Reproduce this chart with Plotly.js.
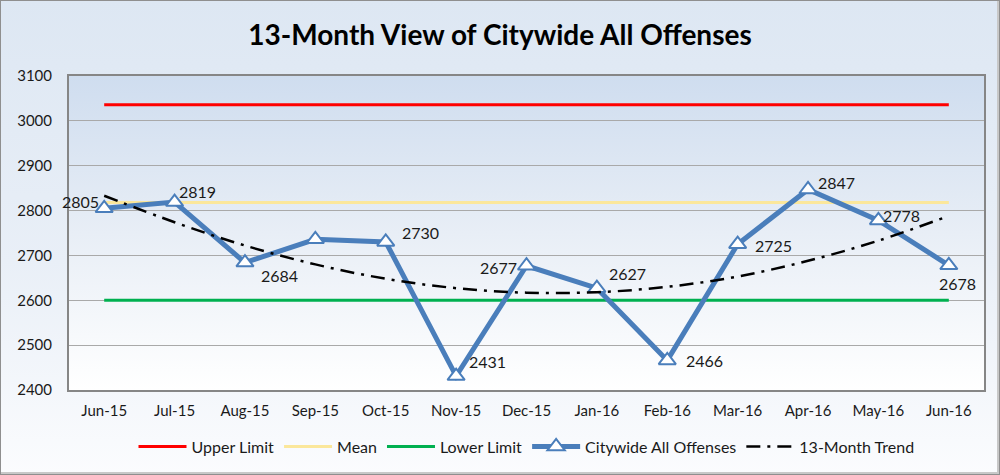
<!DOCTYPE html>
<html>
<head>
<meta charset="utf-8">
<script src="https://cdn.plot.ly/plotly-3.0.1.min.js"></script>
<style>
  html, body { margin: 0; padding: 0; }
  #chart {
    width: 1000px; height: 475px;
    background: linear-gradient(to bottom, #dde7f3 0%, #e9eff7 55%, #fbfcfe 100%);
    box-shadow: inset 0 0 0 1px #8f8f8f, inset -3px -3px 0 0 #c8c8c8;
  }
</style>
</head>
<body>
<div id="chart"></div>
<script>
const months = ["Jun-15","Jul-15","Aug-15","Sep-15","Oct-15","Nov-15","Dec-15","Jan-16","Feb-16","Mar-16","Apr-16","May-16","Jun-16"];
const offenses = [2805, 2819, 2684, 2736, 2730, 2431, 2677, 2627, 2466, 2725, 2847, 2778, 2678];
const upperLimit = [3036, 3036, 3036, 3036, 3036, 3036, 3036, 3036, 3036, 3036, 3036, 3036, 3036];
const meanLine = [2818, 2818, 2818, 2818, 2818, 2818, 2818, 2818, 2818, 2818, 2818, 2818, 2818];
const lowerLimit = [2600, 2600, 2600, 2600, 2600, 2600, 2600, 2600, 2600, 2600, 2600, 2600, 2600];
const trend = [2833, 2774, 2722, 2680, 2648, 2627, 2617, 2618, 2630, 2653, 2688, 2733, 2788];
const yTicks = [2400, 2500, 2600, 2700, 2800, 2900, 3000, 3100];
// which points carry a data label (Sep-15 has none)
const showLabel = [true, true, true, false, true, true, true, true, true, true, true, true, true];

// label placement (style only)
const labelPlace = [
  {xa: "right", dx: -3, dy: 7},
  {xa: "left", dx: 2, dy: 11},
  {xa: "left", dx: 14, dy: -13},
  null,
  {xa: "left", dx: 14, dy: 9},
  {xa: "left", dx: 11, dy: 15},
  {xa: "right", dx: -8, dy: -2},
  {xa: "left", dx: 10, dy: 15},
  {xa: "left", dx: 17, dy: 0},
  {xa: "left", dx: 15, dy: -1},
  {xa: "left", dx: 8, dy: 7},
  {xa: "left", dx: 3, dy: 5},
  {xa: "center", dx: 9, dy: -18}
];

const FONT = "Lato, 'Open Sans', sans-serif";

const traces = [
  {x: months, y: upperLimit, name: "Upper Limit", mode: "lines", line: {color: "#ff0000", width: 3}},
  {x: months, y: meanLine, name: "Mean", mode: "lines", line: {color: "#fbe79b", width: 3}},
  {x: months, y: lowerLimit, name: "Lower Limit", mode: "lines", line: {color: "#00b050", width: 3}},
  {x: months, y: offenses, name: "Citywide All Offenses", mode: "lines+markers",
   line: {color: "#4a7ebb", width: 5},
   marker: {symbol: "triangle-up", size: 15, color: "#ffffff", line: {color: "#4a7ebb", width: 2}}},
  {x: months, y: trend, name: "13-Month Trend", mode: "lines",
   line: {color: "#000000", width: 2.5, dash: "14px,7px,3px,7px", shape: "spline"}}
];

const annotations = [];
offenses.forEach((v, i) => {
  if (!showLabel[i]) return;
  const p = labelPlace[i];
  annotations.push({
    x: months[i], y: v, xref: "x", yref: "y", text: String(v), showarrow: false,
    xanchor: p.xa, yanchor: "middle", xshift: p.dx, yshift: p.dy,
    font: {family: FONT, size: 16, color: "#1a1a1a"}
  });
});

const bgSvg = 'data:image/svg+xml;utf8,' + encodeURIComponent(
  '<svg xmlns="http://www.w3.org/2000/svg" width="100" height="100" preserveAspectRatio="none">' +
  '<defs><linearGradient id="g" x1="0" y1="0" x2="0" y2="1">' +
  '<stop offset="0" stop-color="#cfddef"/><stop offset="0.5" stop-color="#e8eef6"/><stop offset="1" stop-color="#ffffff"/>' +
  '</linearGradient></defs><rect width="100" height="100" fill="url(#g)"/></svg>');

const layout = {
  width: 1000, height: 475,
  margin: {l: 69, r: 16, t: 76, b: 85},
  paper_bgcolor: "rgba(0,0,0,0)",
  plot_bgcolor: "rgba(0,0,0,0)",
  title: {text: "<b>13-Month View of Citywide All Offenses</b>", x: 0.5, xanchor: "center", y: 0.925, yanchor: "middle",
          font: {family: FONT, size: 28, color: "#000000"}},
  font: {family: FONT, color: "#1a1a1a"},
  xaxis: {
    type: "category", range: [-0.5, 12.5], showgrid: false, zeroline: false,
    showline: true, linecolor: "#868686", linewidth: 2, mirror: true,
    ticks: "outside", ticklen: 6, tickcolor: "rgba(0,0,0,0)",
    tickfont: {family: FONT, size: 15, color: "#1a1a1a"}
  },
  yaxis: {
    range: [2400, 3100], tickvals: yTicks, ticktext: yTicks.map(String),
    showgrid: true, gridcolor: "#a9a9a9", gridwidth: 1, zeroline: false,
    showline: true, linecolor: "#868686", linewidth: 2, mirror: true,
    ticks: "outside", ticklen: 12, tickcolor: "rgba(0,0,0,0)",
    tickfont: {family: FONT, size: 15, color: "#1a1a1a"}
  },
  images: [{source: bgSvg, xref: "paper", yref: "paper", x: 0, y: 1, sizex: 1, sizey: 1,
            xanchor: "left", yanchor: "top", sizing: "stretch", layer: "below"}],
  legend: {orientation: "h", x: 0.5, xanchor: "center", y: -0.18, yanchor: "middle",
           font: {family: FONT, size: 16, color: "#1a1a1a"}, bgcolor: "rgba(0,0,0,0)",
           traceorder: "normal", itemwidth: 48, tracegroupgap: 0},
  annotations: annotations,
  showlegend: true
};

Plotly.newPlot("chart", traces, layout, {displayModeBar: false, staticPlot: true});
</script>
</body>
</html>
